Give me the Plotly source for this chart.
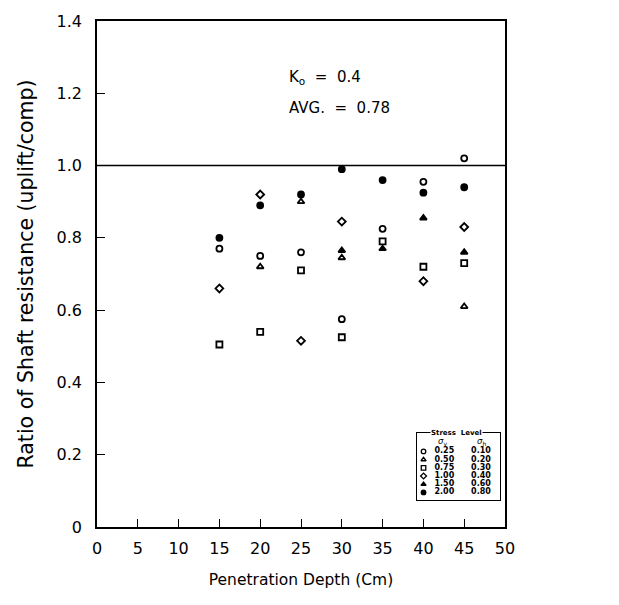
import plotly.graph_objects as go

depth = [15, 20, 25, 30, 35, 40, 45]

sigma_v = ["0.25", "0.50", "0.75", "1.00", "1.50", "2.00"]
sigma_h = ["0.10", "0.20", "0.30", "0.40", "0.60", "0.80"]
symbols = ["circle-open", "triangle-up-open", "square-open", "diamond-open", "triangle-up", "circle"]

ratio_025 = [0.77, 0.75, 0.76, 0.575, 0.825, 0.955, 1.02]
ratio_050 = [None, 0.72, 0.90, 0.745, None, None, 0.61]
ratio_075 = [0.505, 0.54, 0.71, 0.525, 0.79, 0.72, 0.73]
ratio_100 = [0.66, 0.92, 0.515, 0.845, None, 0.68, 0.83]
ratio_150 = [None, None, None, 0.765, 0.77, 0.855, 0.76]
ratio_200 = [0.80, 0.89, 0.92, 0.99, 0.96, 0.925, 0.94]
series = [ratio_025, ratio_050, ratio_075, ratio_100, ratio_150, ratio_200]

x_ticks = [0, 5, 10, 15, 20, 25, 30, 35, 40, 45, 50]
y_ticks = [0, 0.2, 0.4, 0.6, 0.8, 1.0, 1.2, 1.4]
y_ticktext = ["0", "0.2", "0.4", "0.6", "0.8", "1.0", "1.2", "1.4"]

ref_line = 1.0
ko_text = "K<sub>o</sub>&nbsp; =&nbsp; 0.4"
avg_text = "AVG.&nbsp; =&nbsp; 0.78"
legend_title = "<b>Stress&nbsp; Level</b>"

FONT = "DejaVu Sans"

fig = go.Figure()
for vals, sym in zip(series, symbols):
    fig.add_trace(go.Scatter(
        x=depth, y=vals, mode="markers", showlegend=False,
        marker=dict(symbol=sym, size=6, color="black", line=dict(color="black", width=1.8)),
    ))

# ---- inset legend built on its own small axes ----
n = len(sigma_v)
row_y = [0.725 - 0.122 * i for i in range(n)]
fig.add_trace(go.Scatter(
    x=[0.08] * n, y=row_y, mode="markers", xaxis="x2", yaxis="y2", showlegend=False,
    marker=dict(symbol=symbols, size=4.5, color="black", line=dict(color="black", width=1.3)),
))
fig.add_trace(go.Scatter(
    x=[0.33] * n, y=row_y, mode="text", text=sigma_v, xaxis="x2", yaxis="y2", showlegend=False,
    textfont=dict(family=FONT, size=8, color="black", weight="bold"),
))
fig.add_trace(go.Scatter(
    x=[0.77] * n, y=row_y, mode="text", text=sigma_h, xaxis="x2", yaxis="y2", showlegend=False,
    textfont=dict(family=FONT, size=8, color="black", weight="bold"),
))
fig.add_annotation(x=0.31, y=0.875, xref="x2", yref="y2", text="<i>σ</i><sub>v</sub>", showarrow=False,
                   font=dict(family=FONT, size=8.5, color="black"))
fig.add_annotation(x=0.78, y=0.875, xref="x2", yref="y2", text="<i>σ</i><sub>h</sub>", showarrow=False,
                   font=dict(family=FONT, size=8.5, color="black"))
fig.add_annotation(x=0.48, y=1.0, xref="x2", yref="y2", text=legend_title, showarrow=False,
                   bgcolor="white", borderpad=0,
                   font=dict(family=FONT, size=7, color="black"))

fig.add_shape(type="line", xref="paper", x0=0, x1=1, yref="y", y0=ref_line, y1=ref_line,
              line=dict(color="black", width=1.5))

fig.add_annotation(x=23.3, y=1.245, text=ko_text, showarrow=False, xanchor="left",
                   font=dict(family=FONT, size=15, color="black"))
fig.add_annotation(x=23.3, y=1.16, text=avg_text, showarrow=False, xanchor="left",
                   font=dict(family=FONT, size=15, color="black"))

fig.update_layout(
    width=619, height=605,
    margin=dict(l=97, r=114, t=15, b=78),
    paper_bgcolor="white", plot_bgcolor="white",
    font=dict(family=FONT, size=15, color="black"),
    showlegend=False,
    xaxis=dict(
        range=[0, 50], tickvals=x_ticks, ticks="inside", ticklen=8, tickcolor="black",
        showline=True, linecolor="black", linewidth=1.5, mirror=True,
        showgrid=False, zeroline=False, ticklabelstandoff=6,
        tickfont=dict(size=16),
        title=dict(text="Penetration Depth (Cm)", font=dict(size=15.5), standoff=17),
    ),
    yaxis=dict(
        range=[0, 1.4], tickvals=y_ticks, ticktext=y_ticktext, ticks="inside", ticklen=8,
        tickcolor="black", showline=True, linecolor="black", linewidth=1.5, mirror=True,
        showgrid=False, zeroline=False, ticklabelstandoff=10,
        tickfont=dict(size=16),
        title=dict(text="Ratio of Shaft resistance (uplift/comp)", font=dict(size=20.5), standoff=17),
    ),
    xaxis2=dict(
        domain=[0.784, 0.988], anchor="y2", range=[0, 1], showline=True, linecolor="black",
        linewidth=1.3, mirror=True, showgrid=False, zeroline=False, showticklabels=False, ticks="",
        fixedrange=True,
    ),
    yaxis2=dict(
        domain=[0.053, 0.186], anchor="x2", range=[0, 1], showline=True, linecolor="black",
        linewidth=1.3, mirror=True, showgrid=False, zeroline=False, showticklabels=False, ticks="",
        fixedrange=True,
    ),
)

fig.write_html("out.html")
